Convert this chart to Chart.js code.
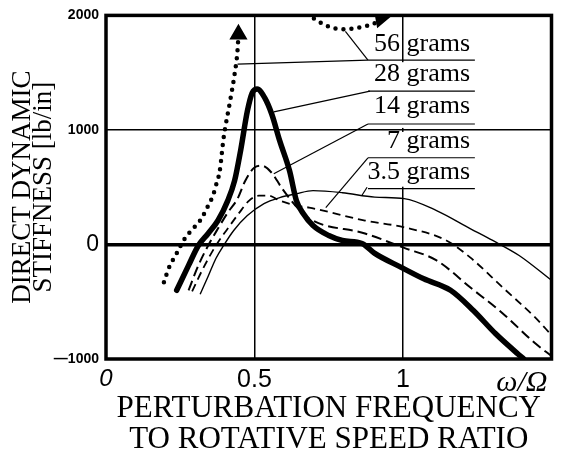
<!DOCTYPE html>
<html>
<head>
<meta charset="utf-8">
<script src="https://cdn.jsdelivr.net/npm/chart.js@4"></script>
<style>
  html, body { margin: 0; padding: 0; background: #fff; }
  #wrap { width: 562px; height: 455px; }
</style>
</head>
<body>
<div id="wrap"><canvas id="stiffChart"></canvas></div>
<script>
// perturbation frequency ratio (w/Omega) vs direct dynamic stiffness [lb/in]
const massLabels = ["56 grams", "28 grams", "14 grams", "7 grams", "3.5 grams"];

// 56 g: rising branch, then the part that comes back in from the top
const x56 = [0.195, 0.211, 0.238, 0.261, 0.287, 0.317, 0.344, 0.36, 0.37, 0.383, 0.396, 0.416, 0.433, 0.443, 0.446];
const y56 = [-330, -209, -78, 35, 122, 209, 339, 426, 513, 643, 930, 1226, 1487, 1700, 1835];
const x56top = [0.70, 0.74, 0.796, 0.856, 0.915, 0.925];
const y56top = [1974, 1913, 1878, 1896, 1948, 1975];

const x28 = [0.238, 0.278, 0.311, 0.344, 0.377, 0.41, 0.433, 0.453, 0.476, 0.492, 0.509, 0.535, 0.558, 0.585, 0.618, 0.641, 0.664, 0.697, 0.75, 0.796, 0.862, 0.905, 0.994, 1.07, 1.16, 1.236, 1.312, 1.391, 1.407];
const y28 = [-400, -183, -9, 96, 209, 383, 557, 817, 1165, 1322, 1357, 1278, 1139, 904, 643, 383, 270, 165, 78, 35, 9, -78, -200, -300, -400, -574, -780, -965, -1000];

const x14 = [0.278, 0.311, 0.344, 0.377, 0.41, 0.443, 0.469, 0.499, 0.525, 0.558, 0.591, 0.641, 0.684, 0.872, 1.004, 1.113, 1.226, 1.335, 1.444, 1.5];
const y14 = [-400, -183, -9, 139, 278, 400, 557, 670, 687, 626, 496, 330, 226, 96, -30, -139, -374, -600, -861, -974];

const x7 = [0.29, 0.327, 0.37, 0.41, 0.449, 0.482, 0.515, 0.548, 0.585, 0.641, 0.684, 0.872, 1.004, 1.146, 1.226, 1.335, 1.444, 1.5];
const y7 = [-409, -209, -9, 139, 278, 383, 426, 426, 383, 339, 322, 209, 150, 35, -113, -374, -635, -791];

const x35 = [0.317, 0.344, 0.37, 0.396, 0.43, 0.476, 0.532, 0.585, 0.641, 0.697, 0.796, 0.905, 1.004, 1.113, 1.226, 1.302, 1.391, 1.5];
const y35 = [-435, -278, -122, -9, 122, 252, 357, 409, 443, 470, 452, 413, 400, 296, 139, 35, -96, -313];

const xTicks = [0, 0.5, 1, 1.4];
const xTickLabels = ["0", "0.5", "1", "ω/Ω"];
const yTicks = [-1000, 0, 1000, 2000];
const yTickLabels = ["—1000", "0", "1000", "2000"];

const pts = (xs, ys) => xs.map((x, i) => ({ x: x, y: ys[i] }));

const data56 = [...pts(x56, y56), { x: 0.58, y: null }, ...pts(x56top, y56top)];
const arrowUp = x56.length - 1;
const arrowTop = data56.length - 1;

// label block on the right, with leader lines (data coords)
const labelRows = [
  { text: massLabels[0], base: 1687, line: 1609 },
  { text: massLabels[1], base: 1426, line: 1339 },
  { text: massLabels[2], base: 1148, line: 1052 },
  { text: massLabels[3], base: 843, line: 757 },
  { text: massLabels[4], base: 574, line: 487 }
];
const leaders = [
  [[0.443, 1574], [0.882, 1609]],
  [[0.882, 1609], [0.806, 1861]],
  [[0.565, 1157], [0.889, 1339]],
  [[0.565, 617], [0.882, 1052]],
  [[0.74, 322], [0.882, 757]],
  [[0.879, 500], [0.862, 430]]
];

const framePlugin = {
  id: "frame",
  afterDatasetsDraw(chart) {
    const { ctx, chartArea: a, scales: { x, y } } = chart;
    ctx.save();
    // hide the w/Omega = 1 grid line behind the label block
    ctx.fillStyle = "#fff";
    const gx = x.getPixelForValue(1);
    ctx.fillRect(gx - 2, y.getPixelForValue(1609) + 2, 4, y.getPixelForValue(1000) - y.getPixelForValue(1609) - 4);
    ctx.fillRect(gx - 2, y.getPixelForValue(1000) + 2, 4, y.getPixelForValue(487) - y.getPixelForValue(1000) - 4);

    ctx.strokeStyle = "#000";
    ctx.lineWidth = 1.2;
    leaders.forEach(([p, q]) => {
      ctx.beginPath();
      ctx.moveTo(x.getPixelForValue(p[0]), y.getPixelForValue(p[1]));
      ctx.lineTo(x.getPixelForValue(q[0]), y.getPixelForValue(q[1]));
      ctx.stroke();
    });

    ctx.fillStyle = "#000";
    ctx.font = "26px 'Liberation Serif'";
    ctx.textAlign = "right";
    ctx.textBaseline = "alphabetic";
    labelRows.forEach(r => {
      ctx.fillText(r.text, x.getPixelForValue(1.226), y.getPixelForValue(r.base));
      ctx.beginPath();
      ctx.moveTo(x.getPixelForValue(0.882), y.getPixelForValue(r.line));
      ctx.lineTo(x.getPixelForValue(1.242), y.getPixelForValue(r.line));
      ctx.stroke();
    });

    // heavy frame
    ctx.lineWidth = 3.5;
    ctx.strokeRect(a.left, a.top, a.right - a.left, a.bottom - a.top);
    ctx.restore();
  }
};

new Chart(document.getElementById("stiffChart"), {
  type: "line",
  data: {
    datasets: [
      {
        label: massLabels[0],
        data: data56,
        borderWidth: 4.5,
        borderDash: [0, 8],
        borderCapStyle: "round",
        pointStyle: "triangle",
        pointRadius: c => (c.dataIndex === arrowUp || c.dataIndex === arrowTop) ? 6 : 0,
        pointRotation: c => c.dataIndex === arrowTop ? 200 : 0,
        pointBackgroundColor: "#000",
        pointBorderColor: "#000"
      },
      { label: massLabels[1], data: pts(x28, y28), borderWidth: 5.5, borderCapStyle: "round" },
      { label: massLabels[2], data: pts(x14, y14), borderWidth: 2, borderDash: [10, 5] },
      { label: massLabels[3], data: pts(x7, y7), borderWidth: 1.8, borderDash: [8, 5] },
      { label: massLabels[4], data: pts(x35, y35), borderWidth: 1.4 }
    ]
  },
  options: {
    responsive: true,
    maintainAspectRatio: false,
    animation: false,
    layout: { padding: { top: 14, right: 2, left: 0, bottom: 0 } },
    plugins: { legend: { display: false }, tooltip: { enabled: false } },
    elements: {
      point: { radius: 0, hoverRadius: 0 },
      line: { cubicInterpolationMode: "monotone", borderColor: "#000", fill: false }
    },
    scales: {
      x: {
        type: "linear",
        min: 0,
        max: 1.5,
        afterBuildTicks: s => { s.ticks = xTicks.map(v => ({ value: v })); },
        afterFit: s => { s.height = 96; },
        border: { display: false },
        grid: {
          drawTicks: false,
          color: c => (c.tick && (c.tick.value === 0.5 || c.tick.value === 1)) ? "#000" : "rgba(0,0,0,0)",
          lineWidth: 1.5
        },
        ticks: {
          color: "#000",
          padding: 6,
          autoSkip: false,
          maxRotation: 0,
          callback: v => xTickLabels[xTicks.indexOf(v)],
          font: c => {
            const v = c.tick ? c.tick.value : null;
            if (v === 0) return { family: "Liberation Sans", size: 24, style: "italic" };
            if (v === 1.4) return { family: "Liberation Serif", size: 30, style: "italic" };
            return { family: "Liberation Sans", size: 25 };
          }
        },
        title: {
          display: true,
          text: ["PERTURBATION FREQUENCY", "TO ROTATIVE SPEED RATIO"],
          color: "#000",
          font: { family: "Liberation Serif", size: 31, lineHeight: 1.0 },
          padding: { top: 0, bottom: 0 }
        }
      },
      y: {
        min: -1000,
        max: 2000,
        afterBuildTicks: s => { s.ticks = yTicks.map(v => ({ value: v })); },
        afterFit: s => { s.width = 106; },
        border: { display: false },
        grid: {
          drawTicks: false,
          color: c => (c.tick && (c.tick.value === 0 || c.tick.value === 1000)) ? "#000" : "rgba(0,0,0,0)",
          lineWidth: c => (c.tick && c.tick.value === 0) ? 3.5 : 1.5
        },
        ticks: {
          color: "#000",
          padding: 7,
          callback: v => yTickLabels[yTicks.indexOf(v)],
          font: c => (c.tick && c.tick.value === 0)
            ? { family: "Liberation Sans", size: 23 }
            : { family: "Liberation Sans", size: 14, weight: "bold" }
        },
        title: {
          display: true,
          text: ["DIRECT DYNAMIC", "STIFFNESS [lb/in]"],
          color: "#000",
          font: { family: "Liberation Serif", size: 27, lineHeight: 0.8 },
          padding: { top: 12, bottom: 0 }
        }
      }
    }
  },
  plugins: [framePlugin]
});
</script>
</body>
</html>
